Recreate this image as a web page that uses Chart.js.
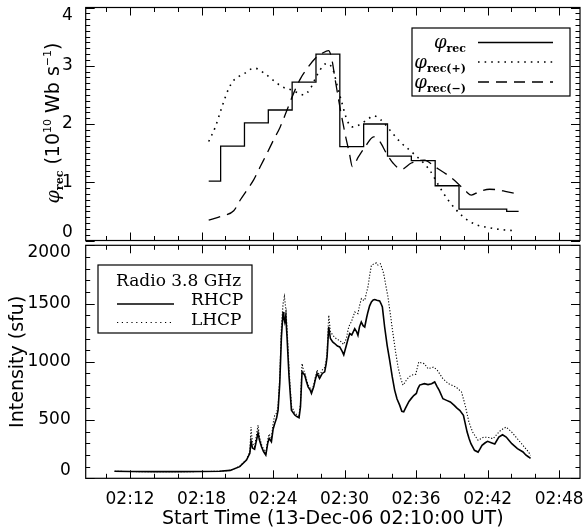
<!DOCTYPE html>
<html><head><meta charset="utf-8">
<script src="https://cdn.jsdelivr.net/npm/chart.js@4.4.1/dist/chart.umd.min.js"></script>
<style>
html,body{margin:0;padding:0;background:#fff;}
#wrap{position:relative;width:584px;height:527px;background:#fff;}
canvas{position:absolute;left:0;top:0;}
</style></head><body>
<div id="wrap"><canvas id="c1" width="584" height="527" style="width:584px;height:527px"></canvas><canvas id="c2" width="584" height="527" style="width:584px;height:527px"></canvas></div>
<script>
// ---------- data (time in minutes after 02:00 UT) ----------
const xTickMinutes = [12, 18, 24, 30, 36, 42, 48];
const topYTicks = [0, 1, 2, 3, 4];
const bottomYTicks = [0, 500, 1000, 1500, 2000];

const phiTimes = [18.6,20.6,22.6,24.6,26.6,28.6,30.6,32.6,34.6,36.6,38.6,40.6,42.6,44.6];
const phiRec   = [1.02,1.62,2.02,2.24,2.72,3.20,1.61,2.00,1.45,1.37,0.94,0.54,0.54,0.50];

const plusTimes = [18.6,19.16,19.72,20.28,20.7,21.54,22.43,23.2,23.9,24.75,25.6,26.15,26.57,27.13,27.69,28.24,28.52,28.8,29.08,29.4,29.78,30.2,30.62,31.17,31.87,32.43,33.0,33.78,34.62,35.74,37.13,37.97,38.67,39.93,41.05,41.9,43.0,44.2];
const phiPlus   = [1.70,1.95,2.30,2.61,2.75,2.86,2.96,2.88,2.77,2.64,2.58,2.53,2.50,2.61,2.84,3.01,3.04,3.01,2.90,2.64,2.36,2.07,1.95,1.98,2.07,2.14,2.08,1.90,1.70,1.50,1.21,0.92,0.70,0.41,0.27,0.23,0.19,0.17];

const minusTimes = [18.6,19.7,20.7,21.26,21.82,22.37,22.93,23.5,24.05,24.6,25.17,25.73,26.3,26.85,27.55,28.1,28.66,28.94,29.22,29.6,30.03,30.4,30.65,31.17,31.73,32.43,32.95,33.5,34.06,34.76,35.6,36.7,37.55,38.8,39.5,40.2,40.63,41.3,42.17,42.87,43.57,44.54];
const phiMinus   = [0.35,0.42,0.51,0.70,0.87,1.04,1.27,1.50,1.73,1.95,2.24,2.53,2.78,2.95,3.13,3.21,3.26,3.10,2.75,2.30,1.84,1.50,1.27,1.44,1.61,1.78,1.70,1.50,1.33,1.22,1.33,1.38,1.27,1.10,0.98,0.84,0.78,0.84,0.88,0.87,0.84,0.80];

const rhcpTimes = [10.7,12,14,16,18,19.5,20.4,21.2,21.77,22.05,22.15,22.27,22.45,22.74,22.85,23.03,23.2,23.39,23.55,23.67,23.86,24.0,24.14,24.3,24.42,24.56,24.7,24.84,24.9,24.98,25.07,25.12,25.17,25.34,25.54,25.82,26.0,26.18,26.3,26.43,26.55,26.66,26.8,26.94,27.1,27.22,27.41,27.55,27.69,27.9,28.13,28.33,28.45,28.53,28.67,28.81,29.0,29.17,29.4,29.59,29.8,29.93,30.15,30.3,30.43,30.6,30.85,31.0,31.12,31.25,31.4,31.55,31.69,31.85,31.96,32.1,32.25,32.4,32.53,32.7,32.94,33.05,33.17,33.36,33.57,33.78,34.0,34.2,34.4,34.62,34.8,34.96,35.1,35.24,35.4,35.6,35.8,36.02,36.15,36.3,36.69,37.0,37.3,37.56,37.75,37.94,38.25,38.56,38.87,39.2,39.45,39.66,39.97,40.1,40.28,40.45,40.6,40.9,41.2,41.35,41.53,41.8,42.0,42.3,42.6,42.94,43.25,43.56,43.8,44.03,44.5,44.97,45.2,45.44,45.6];
const rhcpValues = [60,58,57,57,58,60,68,100,157,214,320,260,250,390,330,271,230,200,300,343,314,420,471,520,585,814,1214,1428,1380,1342,1400,1300,1214,871,585,543,530,520,614,914,900,885,830,785,760,728,785,850,900,857,900,914,980,1042,1299,1200,1170,1157,1135,1128,1090,1060,1142,1200,1242,1230,1285,1260,1228,1300,1342,1310,1299,1380,1428,1480,1514,1530,1534,1528,1522,1500,1470,1299,1141,1014,870,757,680,628,575,571,600,628,660,686,710,728,770,800,812,804,812,827,790,755,683,669,655,626,600,583,540,480,397,340,297,240,225,250,283,305,317,306,295,354,374,354,325,297,254,226,200,183,170];

const lhcpTimes = [10.7,12,14,16,18,19.5,20.4,21.2,21.77,22.05,22.15,22.27,22.45,22.74,22.85,23.03,23.2,23.39,23.55,23.67,23.86,24.0,24.14,24.3,24.42,24.56,24.7,24.84,24.95,25.07,25.17,25.34,25.54,25.82,26.0,26.18,26.3,26.43,26.55,26.66,26.8,26.94,27.1,27.22,27.41,27.55,27.69,27.9,28.13,28.33,28.45,28.53,28.67,28.81,29.0,29.17,29.4,29.59,29.8,29.93,30.15,30.3,30.43,30.57,30.85,31.0,31.12,31.25,31.41,31.55,31.69,31.85,31.96,32.1,32.25,32.45,32.67,32.8,33.0,33.15,33.28,33.45,33.64,33.85,34.06,34.27,34.48,34.7,34.9,35.05,35.18,35.4,35.6,35.97,36.22,36.45,36.69,37.0,37.47,37.78,38.25,38.72,39.34,39.81,40.12,40.43,40.74,41.2,41.68,42.1,42.46,42.8,43.09,43.55,44.02,44.49,44.96,45.43,45.6];
const lhcpValues = [60,58,57,57,58,60,68,102,162,230,440,300,270,457,360,290,250,215,330,380,340,470,543,560,620,870,1300,1500,1560,1450,1300,940,620,560,545,540,640,985,930,905,850,800,775,745,800,870,930,880,930,950,1010,1080,1400,1260,1230,1210,1190,1185,1160,1150,1200,1280,1320,1342,1428,1420,1414,1480,1542,1530,1528,1600,1642,1740,1828,1840,1848,1830,1842,1800,1757,1660,1556,1400,1242,1090,957,860,800,820,843,870,885,893,998,990,984,941,955,927,855,812,784,741,626,483,397,326,354,350,340,380,412,440,397,340,283,226,197];

// ---------- helpers ----------
const X_MIN = 8.28, X_MAX = 49.75;
const xMinorMinutes = [];
for (let m = 10; m <= 48; m += 2) xMinorMinutes.push(m);
const pts = (xs, ys) => xs.map((x, i) => ({x: x, y: ys[i]}));
const fmtTime = v => '02:' + String(v).padStart(2, '0');
const fixedTicks = vals => scale => { scale.ticks = vals.map(v => ({value: v})); };
const edgeLabel = (max) => (v) => {
  const s = String(v);
  if (v === max) return ['', s];
  if (v === 0) return [s, ''];
  return s;
};
const fixWidth = w => s => { s.width = w; s.paddingTop = 0; s.paddingBottom = 0; };

function makeFrame(id, yMajor, yMinorStep, yMax) {
  return {
    id: id,
    afterDatasetsDraw(chart) {
      const ctx = chart.ctx, a = chart.chartArea;
      const xs = chart.scales.x, ys = chart.scales.y;
      ctx.save();
      ctx.strokeStyle = '#000';
      ctx.lineWidth = 1;
      ctx.beginPath();
      xMinorMinutes.forEach(v => {
        const p = Math.round(xs.getPixelForValue(v)) + 0.5;
        const L = xTickMinutes.includes(v) ? 8 : 4.5;
        ctx.moveTo(p, a.bottom); ctx.lineTo(p, a.bottom - L);
        ctx.moveTo(p, a.top); ctx.lineTo(p, a.top + L);
      });
      const n = Math.round(yMax / yMinorStep);
      for (let i = 0; i <= n; i++) {
        const v = i * yMinorStep;
        const p = Math.round(ys.getPixelForValue(v)) + 0.5;
        const major = yMajor.some(m => Math.abs(m - v) < 1e-6);
        const L = major ? 9 : 4.5;
        ctx.moveTo(a.left, p); ctx.lineTo(a.left + L, p);
        ctx.moveTo(a.right, p); ctx.lineTo(a.right - L, p);
      }
      ctx.stroke();
      ctx.lineWidth = 1.2;
      ctx.strokeRect(a.left, a.top, a.right - a.left, a.bottom - a.top);
      ctx.restore();
    }
  };
}

function richWidth(ctx, parts) {
  let w = 0;
  parts.forEach(p => { ctx.font = p.f; w += ctx.measureText(p.t).width; });
  return w;
}
function drawRich(ctx, parts, x, y, align) {
  const w = richWidth(ctx, parts);
  let cx = align === 'right' ? x - w : (align === 'center' ? x - w / 2 : x);
  ctx.textAlign = 'left';
  ctx.textBaseline = 'alphabetic';
  parts.forEach(p => {
    ctx.font = p.f;
    ctx.fillText(p.t, cx, y + (p.dy || 0));
    cx += ctx.measureText(p.t).width;
  });
}

const PHI_FONT = 'italic 18px "DejaVu Serif"';
const SUB_FONT = 'bold 11px "DejaVu Serif"';

const topDecor = {
  id: 'topDecor',
  afterDraw(chart) {
    const ctx = chart.ctx;
    ctx.save();
    ctx.fillStyle = '#000';
    // y-axis title (rotated)
    ctx.translate(59, 123);
    ctx.rotate(-Math.PI / 2);
    drawRich(ctx, [
      {t: 'φ', f: 'italic 19px "DejaVu Serif"'},
      {t: 'rec', f: SUB_FONT, dy: 3.5},
      {t: ' (10', f: '19px "DejaVu Sans"'},
      {t: '10', f: '11px "DejaVu Sans"', dy: -8},
      {t: ' Wb s', f: '19px "DejaVu Sans"'},
      {t: '−1', f: '11px "DejaVu Sans"', dy: -8},
      {t: ')', f: '19px "DejaVu Sans"'}
    ], 0, 0, 'center');
    ctx.restore();

    // legend box
    ctx.save();
    ctx.fillStyle = '#fff';
    ctx.fillRect(412, 28, 158, 68);
    ctx.strokeStyle = '#000';
    ctx.lineWidth = 1.2;
    ctx.strokeRect(412, 28, 158, 68);
    ctx.fillStyle = '#000';
    const rows = [
      {sub: 'rec', y: 47.5, ly: 42.5, dash: []},
      {sub: 'rec(+)', y: 67.5, ly: 62, dash: [1.6, 5]},
      {sub: 'rec(−)', y: 87.5, ly: 82, dash: [11, 7]}
    ];
    rows.forEach(r => {
      drawRich(ctx, [{t: 'φ', f: PHI_FONT}, {t: r.sub, f: SUB_FONT, dy: 4}], 466, r.y, 'right');
      ctx.beginPath();
      ctx.setLineDash(r.dash);
      ctx.lineWidth = r.dash.length && r.dash[0] < 2 ? 1.6 : 1.3;
      ctx.moveTo(478, r.ly); ctx.lineTo(553, r.ly);
      ctx.stroke();
    });
    ctx.restore();
  }
};

const bottomDecor = {
  id: 'bottomDecor',
  afterDraw(chart) {
    const ctx = chart.ctx;
    ctx.save();
    ctx.fillStyle = '#fff';
    ctx.fillRect(98, 265, 154, 68);
    ctx.strokeStyle = '#000';
    ctx.lineWidth = 1.2;
    ctx.strokeRect(98, 265, 154, 68);
    ctx.fillStyle = '#000';
    ctx.font = '17px "DejaVu Serif"';
    ctx.textAlign = 'left';
    ctx.textBaseline = 'alphabetic';
    ctx.fillText('Radio 3.8 GHz', 116, 285.5);
    ctx.fillText('RHCP', 191, 305);
    ctx.fillText('LHCP', 191, 324.5);
    ctx.beginPath();
    ctx.lineWidth = 1.5;
    ctx.moveTo(117, 304); ctx.lineTo(174, 304);
    ctx.stroke();
    ctx.beginPath();
    ctx.setLineDash([1.2, 3.6]);
    ctx.lineWidth = 1.2;
    ctx.moveTo(117, 322.5); ctx.lineTo(174, 322.5);
    ctx.stroke();
    ctx.restore();
  }
};

Chart.defaults.font.family = '"DejaVu Sans"';
Chart.defaults.color = '#000';

const baseOpts = {
  responsive: false,
  animation: false,
  devicePixelRatio: 1,
  elements: {point: {radius: 0, hoverRadius: 0}, line: {fill: false, borderColor: '#000'}},
  plugins: {legend: {display: false}, tooltip: {enabled: false}}
};

// ---------- top panel ----------
new Chart(document.getElementById('c1'), {
  type: 'line',
  data: {datasets: [
    {label: 'φrec', data: pts(phiTimes, phiRec), stepped: 'middle', borderColor: '#000', borderWidth: 1.3},
    {label: 'φrec(+)', data: pts(plusTimes, phiPlus), borderColor: '#000', borderWidth: 1.6, borderDash: [1.6, 5], cubicInterpolationMode: 'monotone'},
    {label: 'φrec(-)', data: pts(minusTimes, phiMinus), borderColor: '#000', borderWidth: 1.3, borderDash: [12, 7], cubicInterpolationMode: 'monotone'}
  ]},
  options: Object.assign({}, baseOpts, {
    layout: {padding: {left: 0, right: 4, top: 7.5, bottom: 286.5}},
    scales: {
      x: {type: 'linear', min: X_MIN, max: X_MAX, display: false},
      y: {
        type: 'linear', min: 0, max: 4,
        afterBuildTicks: fixedTicks(topYTicks),
        afterFit: fixWidth(85.7),
        grid: {display: false}, border: {display: false},
        ticks: {font: {size: 17, lineHeight: 0.9}, color: '#000', padding: 5, callback: edgeLabel(4)}
      }
    }
  }),
  plugins: [makeFrame('frameTop', topYTicks, 0.1, 4), topDecor]
});

// ---------- bottom panel ----------
new Chart(document.getElementById('c2'), {
  type: 'line',
  data: {datasets: [
    {label: 'RHCP', data: pts(rhcpTimes, rhcpValues), borderColor: '#000', borderWidth: 1.6},
    {label: 'LHCP', data: pts(lhcpTimes, lhcpValues), borderColor: '#000', borderWidth: 1.1, borderDash: [1.2, 1.8]}
  ]},
  options: Object.assign({}, baseOpts, {
    layout: {padding: {left: 0, right: 4, top: 245.3, bottom: 0}},
    scales: {
      x: {
        type: 'linear', min: X_MIN, max: X_MAX,
        afterBuildTicks: fixedTicks(xTickMinutes),
        afterFit: s => { s.height = 48.7; s.paddingLeft = 0; s.paddingRight = 0; },
        grid: {display: false}, border: {display: false},
        ticks: {font: {size: 17}, color: '#000', padding: 3, maxRotation: 0, callback: v => fmtTime(v)},
        title: {display: true, text: 'Start Time (13-Dec-06 02:10:00 UT)', font: {size: 19, lineHeight: 0.8}, color: '#000', padding: {top: 0, bottom: 0}}
      },
      y: {
        type: 'linear', min: 0, max: 2000,
        afterBuildTicks: fixedTicks(bottomYTicks),
        afterFit: fixWidth(85.7),
        grid: {display: false}, border: {display: false},
        ticks: {font: {size: 17, lineHeight: 0.9}, color: '#000', padding: 7, callback: edgeLabel(2000)},
        title: {display: true, text: 'Intensity (sfu)', font: {size: 19, lineHeight: 1}, color: '#000', padding: {top: 9, bottom: 0}}
      }
    }
  }),
  plugins: [makeFrame('frameBottom', bottomYTicks, 100, 2000), bottomDecor]
});
</script>
</body></html>
